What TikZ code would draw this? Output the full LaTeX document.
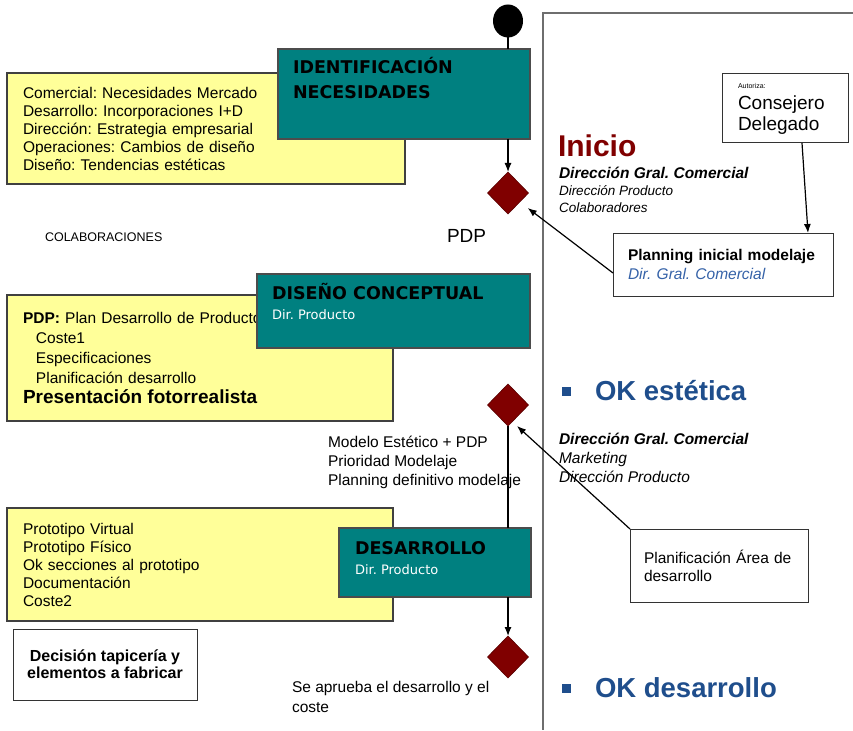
\documentclass[tikz,border=0pt]{standalone}
\usepackage{fontspec}
\setmainfont{Liberation Sans}
\newfontfamily\boxfont{DejaVu Sans}
\usetikzlibrary{arrows.meta, shapes.geometric}

\definecolor{tealbg}{HTML}{008080}
\definecolor{notebg}{HTML}{FFFF99}
\definecolor{gatered}{HTML}{800000}
\definecolor{okblue}{HTML}{1F4E8C}
\definecolor{dirblue}{HTML}{3562A8}
\definecolor{framegray}{HTML}{6E6E6E}

\begin{document}
\frenchspacing
\begin{tikzpicture}[> = {Latex[length=9pt, width=7pt]}, % arrow head style
                x = 1pt, y = -1pt, % pixel-like coordinates, y down
                line width = 1.2pt % line style
            ]

            \tikzstyle{every node}=[inner sep = 0pt, outer sep = 0pt]
            \tikzstyle{notebox}=[draw = black!75, fill = notebg, anchor = north west,
            align = left, font = \fontsize{15.5}{18}\selectfont]
            \tikzstyle{phasebox}=[draw = black!70, fill = tealbg, anchor = north west]
            \tikzstyle{phasetitle}=[anchor = base west, align = left,
            font = \boxfont\bfseries\fontsize{17.5}{25}\selectfont]
            \tikzstyle{phaseowner}=[anchor = base west, text = white,
            font = \boxfont\fontsize{13}{15}\selectfont]
            \tikzstyle{infobox}=[draw = black!80, line width = 1pt, fill = white,
            anchor = north west, align = left]
            \tikzstyle{gate}=[diamond, fill = gatered, draw = gatered!70!black,
            line width = 0.6pt, minimum width = 41pt, minimum height = 42pt]
            \tikzstyle{plain}=[anchor = base west, align = left]

            \useasboundingbox (0,0) rectangle (853,730);

            % lane frame
            \draw[framegray, line width = 1.8pt] (853,13) -- (543,13) -- (543,730);

            % notes on the left
            \node[notebox, minimum width = 398pt, minimum height = 111pt,
            text width = 366pt, inner xsep = 16pt] (needs) at (7,73)
            {Comercial: Necesidades Mercado\\ Desarrollo: Incorporaciones I+D\\
             Dirección: Estrategia empresarial\\ Operaciones: Cambios de diseño\\
             Diseño: Tendencias estéticas};
            \node[notebox, minimum width = 386pt, minimum height = 126pt,
            text width = 354pt, inner xsep = 16pt,
            font = \fontsize{15.5}{20}\selectfont] (plan) at (7,295)
            {\textbf{PDP:} Plan Desarrollo de Producto\\
             \hspace*{13pt}Coste1\\ \hspace*{13pt}Especificaciones\\
             \hspace*{13pt}Planificación desarrollo\\
             {\fontsize{19}{21}\selectfont\bfseries Presentación fotorrealista}};
            \node[notebox, minimum width = 386pt, minimum height = 113pt,
            text width = 354pt, inner xsep = 16pt] (proto) at (7,508)
            {Prototipo Virtual\\ Prototipo Físico\\ Ok secciones al prototipo\\
             Documentación\\ Coste2};
            \node[infobox, minimum width = 184pt, minimum height = 71pt,
            align = center, font = \bfseries\fontsize{16}{17}\selectfont]
            (upholstery) at (13,629) {Decisión tapicería y\\ elementos a fabricar};

            % phases
            \node[phasebox, minimum width = 252pt, minimum height = 90pt]
            (ident) at (278,49) {};
            \node[phasetitle] (identname) at (293,99)
            {IDENTIFICACIÓN\\ NECESIDADES};
            \node[phasebox, minimum width = 273pt, minimum height = 74pt]
            (concept) at (257,274) {};
            \node[phasetitle] (conceptname) at (272,299.5) {DISEÑO CONCEPTUAL};
            \node[phaseowner] (conceptowner) at (272,319.5) {Dir. Producto};
            \node[phasebox, minimum width = 192pt, minimum height = 69pt]
            (develop) at (339,528) {};
            \node[phasetitle] (developname) at (355,554.5) {DESARROLLO};
            \node[phaseowner] (developowner) at (355,574.5) {Dir. Producto};

            % flow
            \node[ellipse, fill = black, minimum width = 30pt, minimum height = 33pt]
            (start) at (508,21) {};
            \node[gate] (g1) at (508,193) {};
            \node[gate] (g2) at (508,405) {};
            \node[gate] (g3) at (508,657) {};

            \path (start) edge (start |- ident.north);
            \path[->] (g1 |- ident.south) edge (g1.north);
            \path (g2.south) edge (g2 |- develop.north);
            \path[->] (g3 |- develop.south) edge (g3.north);

            % labels along the flow
            \node[plain, font = \fontsize{12.5}{13}\selectfont] (collab) at (45,241)
            {COLABORACIONES};
            \node[plain, font = \fontsize{19}{20}\selectfont] (pdp) at (447,242) {PDP};
            \node[plain, font = \fontsize{15.5}{19}\selectfont] (model) at (328,485)
            {Modelo Estético + PDP\\ Prioridad Modelaje\\ Planning definitivo modelaje};
            \node[plain, font = \fontsize{15.5}{20}\selectfont] (approve) at (292,712)
            {Se aprueba el desarrollo y el\\ coste};

            % right lane
            \node[plain, text = gatered, font = \bfseries\fontsize{30}{32}\selectfont]
            (start lane) at (558,157) {Inicio};
            \node[plain, font = \itshape\fontsize{13.5}{17}\selectfont] (startwho)
            at (559,212) {{\bfseries\fontsize{15.5}{17}\selectfont Dirección Gral. Comercial}\\
             Dirección Producto\\ Colaboradores};
            \node[plain, text = okblue, font = \bfseries\fontsize{27.5}{30}\selectfont]
            (okstyle) at (562,400) {\rule[4.5pt]{9pt}{9pt}\hspace{24pt}OK estética};
            \node[plain, font = \itshape\fontsize{15.5}{19}\selectfont] (stylewho)
            at (559,482) {{\bfseries\fontsize{15.5}{19}\selectfont Dirección Gral. Comercial}\\
             Marketing\\ Dirección Producto};
            \node[plain, text = okblue, font = \bfseries\fontsize{27.5}{30}\selectfont]
            (okdev) at (562,697) {\rule[4.5pt]{9pt}{9pt}\hspace{24pt}OK desarrollo};

            \node[infobox, minimum width = 126pt, minimum height = 69pt,
            text width = 94pt, inner xsep = 16pt, font = \fontsize{19}{21}\selectfont]
            (board) at (722,74)
            {{\fontsize{7}{8}\selectfont Autoriza:}\\ Consejero\\ Delegado};
            \node[infobox, minimum width = 220pt, minimum height = 63pt,
            text width = 190pt, inner xsep = 15pt, font = \fontsize{15.5}{19}\selectfont]
            (planning) at (613,233)
            {\textbf{Planning inicial modelaje}\\
             \textcolor{dirblue}{\itshape Dir. Gral. Comercial}};
            \node[infobox, minimum width = 178pt, minimum height = 73pt,
            text width = 150pt, inner xsep = 14pt, font = \fontsize{15.5}{18}\selectfont]
            (devplan) at (630,529) {Planificación Área de\\ desarrollo};

            \path[->] ([xshift = 17pt]board.south) edge ([xshift = 85pt]planning.north);
            \path[->, shorten > = 10pt] ([yshift = -8.5pt]planning.west) edge (g1);
            \path[->] (devplan.north west) edge ([xshift = 9pt]g2.south);
\end{tikzpicture}
\end{document}
